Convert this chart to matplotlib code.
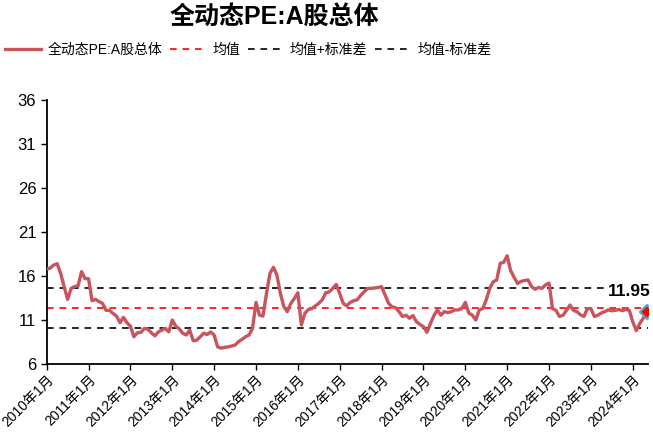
import numpy as np
import matplotlib
matplotlib.use("Agg")
import matplotlib.pyplot as plt

plt.rcParams['font.family'] = ['Liberation Sans', 'Noto Sans CJK SC', 'DejaVu Sans']
plt.rcParams['axes.unicode_minus'] = False

# monthly PE, 2010-01 .. 2024-05
pe = [16.8, 16.9, 17.25, 17.4, 16.3, 14.8, 13.35, 14.6, 14.8, 14.9, 16.5, 15.7,
      15.7, 13.2, 13.35, 13.1, 12.9, 12.1, 12.1, 11.75, 11.45, 10.7, 11.3, 10.7,
      10.3, 9.1, 9.55, 9.6, 10.05, 9.95, 9.55, 9.2, 9.65, 9.85, 10.05, 9.65,
      11.0, 10.3, 10.0, 9.5, 9.3, 9.85, 8.65, 8.7, 9.1, 9.5, 9.35, 9.65,
      9.3, 7.95, 7.8, 7.9, 7.95, 8.05, 8.15, 8.55, 8.8, 9.1, 9.3, 10.05,
      13.0, 11.55, 11.45, 14.0, 16.3, 17.0, 16.1, 14.0, 12.5, 11.95, 12.9, 13.45,
      14.1, 10.45, 11.75, 12.2, 12.3, 12.6, 12.9, 13.3, 14.1, 14.2, 14.6, 15.05,
      14.0, 12.9, 12.6, 13.0, 13.2, 13.3, 13.8, 14.2, 14.6, 14.6, 14.65, 14.7,
      14.8, 13.85, 12.9, 12.5, 12.4, 11.95, 11.4, 11.55, 11.2, 11.5, 10.8, 10.5,
      10.25, 9.6, 10.6, 11.5, 12.15, 11.55, 11.95, 11.85, 11.95, 12.15, 12.15, 12.3,
      13.0, 11.8, 11.55, 11.0, 12.15, 12.3, 13.3, 14.6, 15.35, 15.55, 17.45, 17.55,
      18.3, 16.6, 15.85, 15.15, 15.4, 15.5, 15.55, 14.8, 14.5, 14.7, 14.6, 15.0,
      15.2, 12.3, 12.1, 11.4, 11.55, 12.1, 12.7, 12.1, 11.95, 11.6, 11.4, 12.3,
      12.3, 11.4, 11.55, 11.8, 11.95, 12.15, 12.05, 12.1, 12.2, 12.05, 12.2, 12.1,
      10.8, 9.8, 10.6, 11.2, 11.95]
years = list(range(2010, 2025))
xlabels = [f"{y}年1月" for y in years]
yticks = [6, 11, 16, 21, 26, 31, 36]

pe = np.array(pe)
mean = pe.mean()
std = pe.std()
x = np.arange(len(pe))

fig = plt.figure(figsize=(6.53, 4.37), dpi=100)
ax = fig.add_axes([0.0715, 0.167, 0.921, 0.604])

line_c = '#C9545C'
dash = (0, (4, 3.5))
ax.plot(x, pe, color=line_c, lw=2.4, label='全动态PE:A股总体', zorder=3)
ax.axhline(mean, color='#FF0000', lw=1.2, ls=dash, label='均值')
ax.axhline(mean + std, color='black', lw=1.2, ls=dash, label='均值+标准差')
ax.axhline(mean - std, color='black', lw=1.2, ls=dash, label='均值-标准差')

ax.plot(x[-1], pe[-1], marker='D', ms=7, mfc='#FF0000', mec='#4BACC6', mew=1.5, zorder=4)
ax.annotate(f"{pe[-1]:.2f}", (x[-1], pe[-1]), xytext=(3, 9), textcoords='offset points',
            ha='right', va='bottom', fontsize=12.5, fontweight='bold', zorder=5,
            bbox=dict(boxstyle='square,pad=0.1', fc='white', ec='none'))

ax.set_xlim(0, len(pe) - 0.6)
ax.set_ylim(6, 36)
ax.set_yticks(yticks)
ax.set_xticks([12 * i for i in range(len(years))])
ax.set_xticklabels(xlabels, rotation=45, ha='right', rotation_mode='anchor', fontsize=10)
ax.tick_params(axis='y', labelsize=12, direction='out', length=4, width=1)
ax.tick_params(axis='x', direction='out', length=4, width=1, pad=2)
for s in ['top', 'right']:
    ax.spines[s].set_visible(False)
for s in ['left', 'bottom']:
    ax.spines[s].set_linewidth(1.3)

fig.suptitle('全动态PE:A股总体', x=0.42, y=0.988, fontsize=18, fontweight='bold')
fig.legend(loc='center', bbox_to_anchor=(0.38, 0.886), ncol=4, frameon=False,
           fontsize=10, handlelength=2.6, columnspacing=0.55, handletextpad=0.45)

fig.savefig('out.png', dpi=100)
